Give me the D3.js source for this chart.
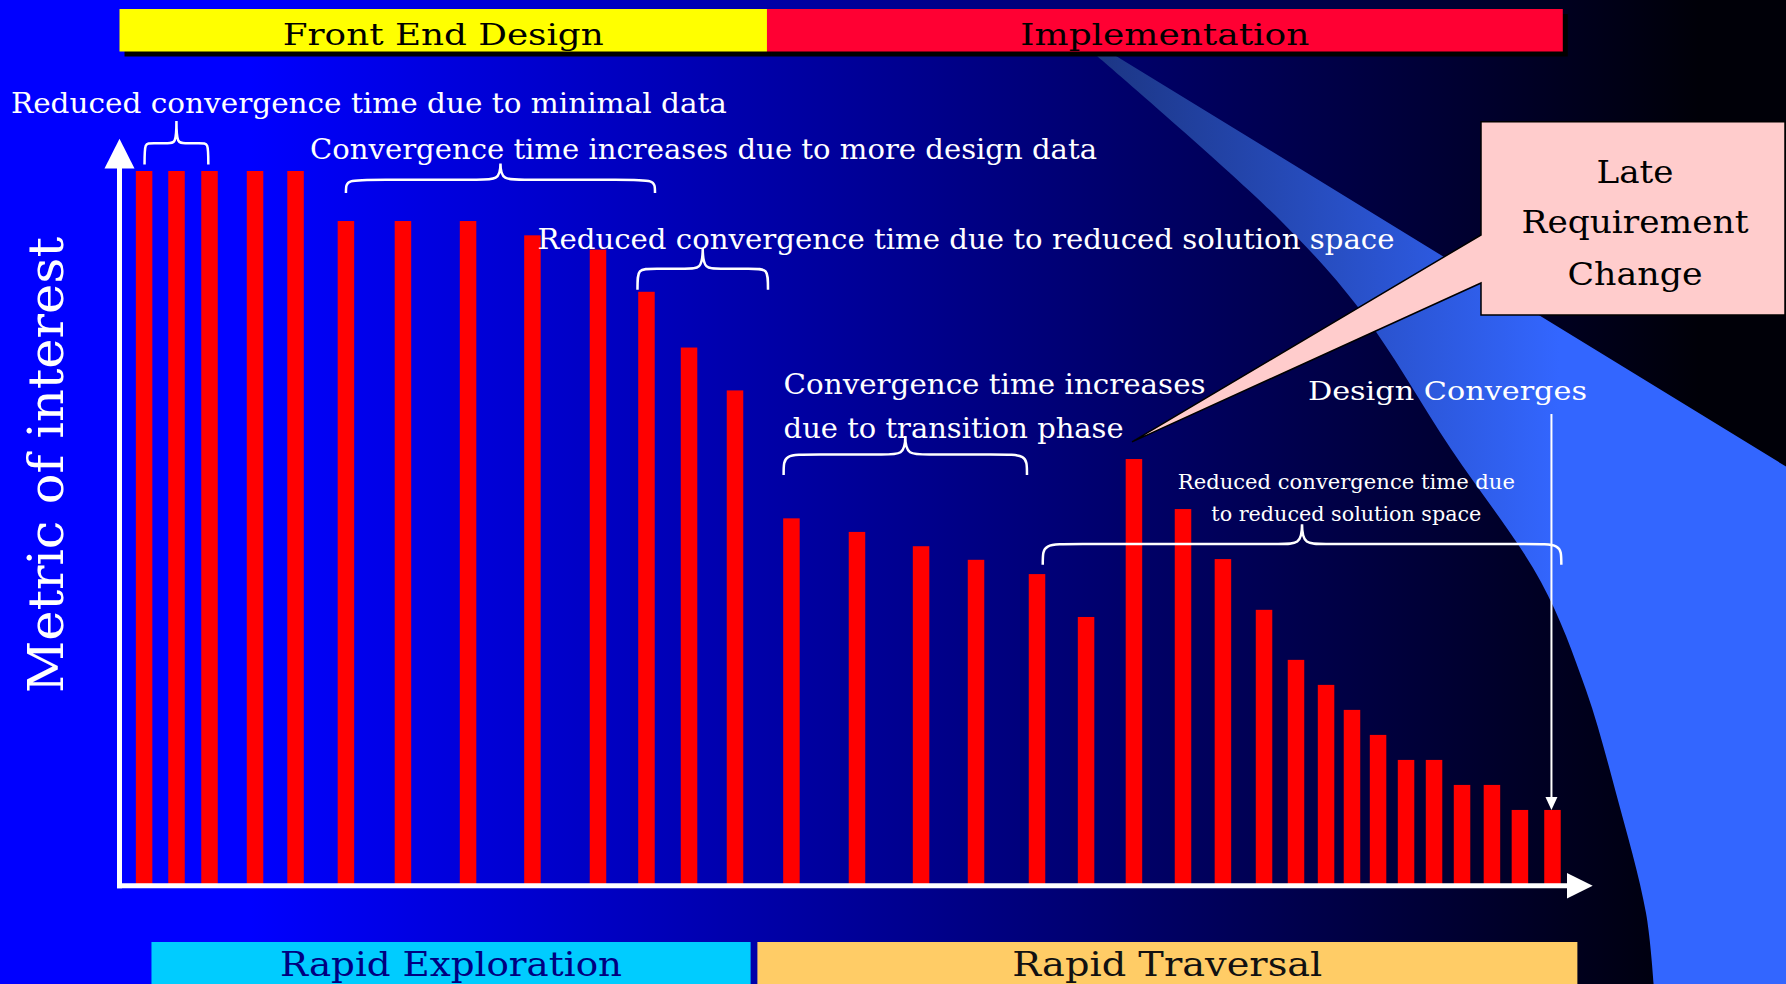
<!DOCTYPE html>
<html>
<head>
<meta charset="utf-8">
<script src="https://cdn.jsdelivr.net/npm/d3@7"></script>
<style>
  html, body { margin: 0; padding: 0; background: #000; overflow: hidden; }
  text { font-family: "DejaVu Serif", "Liberation Serif", serif; }
</style>
</head>
<body>
<svg id="chart" width="1786" height="984"></svg>
<script>
// bar data: position on the time axis (0-100) and metric value (0-100)
const times = [1.67, 3.87, 6.11, 9.2, 11.95, 15.37, 19.24, 23.66, 28.03, 32.48, 35.77, 38.66, 41.78,
  45.61, 50.06, 54.41, 58.14, 62.28, 65.61, 68.86, 72.19, 74.9, 77.69, 79.86, 81.9, 83.66, 85.43,
  87.33, 89.23, 91.13, 93.16, 95.06, 97.27];
const metric = [100, 100, 100, 100, 100, 93, 93, 93, 91, 89, 83.1, 75.3, 69.3,
  51.4, 49.5, 47.5, 45.6, 43.6, 37.6, 59.7, 52.7, 45.7, 38.6, 31.6, 28.1, 24.6, 21.1,
  17.6, 17.6, 14.1, 14.1, 10.6, 10.6];

// phase bands, in time units
const topPhases = ["Front End Design", "Implementation"];
const topPhaseStart = [0, 43.95];
const topPhaseEnd = [43.95, 97.97];
const bottomPhases = ["Rapid Exploration", "Rapid Traversal"];
const bottomPhaseStart = [2.17, 43.3];
const bottomPhaseEnd = [42.84, 98.96];

const yLabel = "Metric of interest";
const calloutLines = ["Late", "Requirement", "Change"];

// braces (time from/to, metric values of tip, flat part and ends)
const braces = [
  { from: 1.70, to: 6.03, tip: 107.0, mid: 103.9, end: 100.9 },
  { from: 15.37, to: 36.35, tip: 101.06, mid: 98.78, end: 96.92 },
  { from: 35.16, to: 44.02, tip: 89.23, mid: 86.33, end: 83.39 },
  { from: 45.08, to: 61.60, tip: 62.92, mid: 60.33, end: 57.46 },
  { from: 62.67, to: 97.87, tip: 50.57, mid: 47.81, end: 44.91 }
];

const notes = [
  { text: "Reduced convergence time due to minimal data", t: -7.37, v: 108.1 },
  { text: "Convergence time increases due to more design data", t: 12.93, v: 101.68 },
  { text: "Reduced convergence time due to reduced solution space", t: 28.37, v: 89.08 },
  { text: "Convergence time increases", t: 45.08, v: 68.73 },
  { text: "due to transition phase", t: 45.08, v: 62.68 },
  { text: "Design Converges", t: 80.67, v: 67.96 },
  { text: "Reduced convergence time due", t: 83.28, v: 55.51 },
  { text: "to reduced solution space", t: 83.28, v: 51.03 }
];
const noteSize = [27, 27, 27, 27, 27, 26, 20, 20];
const noteLen = [716, 787, 857, 422, 340, 279, 337, 270];
const noteAnchor = ["start", "start", "start", "start", "start", "start", "middle", "middle"];

const calloutTip = { t: 68.73, v: 62.1 };
const convergeArrow = { t: 97.2, from: 66, to: 10.6 };

const W = 1786, H = 984;
const svg = d3.select("#chart");

const x = d3.scaleLinear().domain([0, 100]).range([119.5, 1592.7]);
const y = d3.scaleLinear().domain([0, 100]).range([885.7, 171]);

const defs = svg.append("defs");
const bg = defs.append("linearGradient").attr("id", "bg")
  .attr("gradientUnits", "userSpaceOnUse")
  .attr("x1", 250).attr("y1", 0).attr("x2", 1700).attr("y2", 0);
bg.append("stop").attr("offset", 0).attr("stop-color", "#0000ff");
bg.append("stop").attr("offset", 1).attr("stop-color", "#000008");

const wg = defs.append("linearGradient").attr("id", "wedge")
  .attr("gradientUnits", "userSpaceOnUse")
  .attr("x1", 1100).attr("y1", 0).attr("x2", 1560).attr("y2", 0);
wg.append("stop").attr("offset", 0).attr("stop-color", "#1c3685");
wg.append("stop").attr("offset", 1).attr("stop-color", "#3366ff");

svg.append("rect").attr("width", W).attr("height", H).attr("fill", "url(#bg)");

// light beam coming down from the implementation band
const beamEdge = [[1097, 56], [1280, 220], [1361, 311], [1451, 449], [1541, 582],
  [1586, 690], [1616, 793], [1646, 913], [1654, 990]];
const edge = d3.line().curve(d3.curveCatmullRom)(beamEdge);
svg.append("path")
  .attr("d", edge + "L1790,990L1790,469L1116,56Z")
  .attr("fill", "url(#wedge)");

// top phase bands with shadows
const topColors = ["#ffff00", "#ff0033"];
const topLen = [321, 289];
const topG = svg.append("g");
topG.selectAll(".shadow").data(topPhases).enter().append("rect")
  .attr("class", "shadow")
  .attr("x", (d, i) => x(topPhaseStart[i]) + 5)
  .attr("y", 14)
  .attr("width", (d, i) => x(topPhaseEnd[i]) - x(topPhaseStart[i]))
  .attr("height", 42.5)
  .attr("fill", "#000");
topG.selectAll(".band").data(topPhases).enter().append("rect")
  .attr("class", "band")
  .attr("x", (d, i) => x(topPhaseStart[i]))
  .attr("y", 9)
  .attr("width", (d, i) => x(topPhaseEnd[i]) - x(topPhaseStart[i]))
  .attr("height", 42.5)
  .attr("fill", (d, i) => topColors[i]);
topG.selectAll("text").data(topPhases).enter().append("text")
  .attr("x", (d, i) => (x(topPhaseStart[i]) + x(topPhaseEnd[i])) / 2)
  .attr("y", 45)
  .attr("text-anchor", "middle")
  .attr("font-size", 30)
  .attr("textLength", (d, i) => topLen[i])
  .attr("lengthAdjust", "spacingAndGlyphs")
  .attr("fill", "#000")
  .text(d => d);

// bottom phase bands
const botColors = ["#00ccff", "#ffcc66"];
const botText = ["#000080", "#111111"];
const botLen = [342, 310];
const bottomG = svg.append("g");
bottomG.selectAll("rect").data(bottomPhases).enter().append("rect")
  .attr("x", (d, i) => x(bottomPhaseStart[i]))
  .attr("y", 942)
  .attr("width", (d, i) => x(bottomPhaseEnd[i]) - x(bottomPhaseStart[i]))
  .attr("height", 50)
  .attr("fill", (d, i) => botColors[i]);
bottomG.selectAll("text").data(bottomPhases).enter().append("text")
  .attr("x", (d, i) => (x(bottomPhaseStart[i]) + x(bottomPhaseEnd[i])) / 2)
  .attr("y", 976)
  .attr("text-anchor", "middle")
  .attr("font-size", 33)
  .attr("textLength", (d, i) => botLen[i])
  .attr("lengthAdjust", "spacingAndGlyphs")
  .attr("fill", (d, i) => botText[i])
  .text(d => d);

// bars
svg.append("g").selectAll("rect").data(metric).enter().append("rect")
  .attr("x", (d, i) => x(times[i]) - 8.25)
  .attr("y", d => y(d))
  .attr("width", 16.5)
  .attr("height", d => y(0) - y(d))
  .attr("fill", "#ff0000");

// axes with arrow heads
const axes = svg.append("g").attr("fill", "#fff").attr("stroke", "#fff");
axes.append("line")
  .attr("x1", x(0)).attr("y1", y(0) + 2.5)
  .attr("x2", x(0)).attr("y2", y(104.5) + 28)
  .attr("stroke-width", 5);
axes.append("path")
  .attr("stroke", "none")
  .attr("d", `M${x(0) - 15},${y(104.5) + 29.6}L${x(0) + 15},${y(104.5) + 29.6}L${x(0)},${y(104.5)}Z`);
axes.append("line")
  .attr("x1", x(0) - 2.5).attr("y1", y(0))
  .attr("x2", x(100) - 25).attr("y2", y(0))
  .attr("stroke-width", 5);
axes.append("path")
  .attr("stroke", "none")
  .attr("d", `M${x(100) - 25.7},${y(0) - 12.8}L${x(100) - 25.7},${y(0) + 12.8}L${x(100)},${y(0)}Z`);

// y label
svg.append("text")
  .attr("transform", "translate(63,465) rotate(-90)")
  .attr("text-anchor", "middle")
  .attr("font-size", 48)
  .attr("textLength", 456)
  .attr("lengthAdjust", "spacingAndGlyphs")
  .attr("fill", "#fff")
  .text(yLabel);

// curly braces
function bracePath(b) {
  const x1 = x(b.from), x2 = x(b.to), cx = (x1 + x2) / 2;
  const ym = y(b.mid), yt = y(b.tip), ye = y(b.end);
  const re = Math.min(40, (x2 - x1) * 0.15);
  const rc = Math.min(24, (x2 - x1) * 0.14);
  return `M${x1},${ye}C${x1},${ym} ${x1},${ym} ${x1 + re},${ym}` +
    `L${cx - rc},${ym}C${cx - rc * 0.2},${ym} ${cx},${ym} ${cx},${yt}` +
    `C${cx},${ym} ${cx + rc * 0.2},${ym} ${cx + rc},${ym}` +
    `L${x2 - re},${ym}C${x2},${ym} ${x2},${ym} ${x2},${ye}`;
}
svg.append("g").selectAll("path").data(braces).enter().append("path")
  .attr("d", bracePath)
  .attr("fill", "none")
  .attr("stroke", "#fff")
  .attr("stroke-width", 2.5);

// annotation texts
svg.append("g").selectAll("text").data(notes).enter().append("text")
  .attr("x", d => x(d.t))
  .attr("y", d => y(d.v))
  .attr("text-anchor", (d, i) => noteAnchor[i])
  .attr("font-size", (d, i) => noteSize[i])
  .attr("textLength", (d, i) => noteLen[i])
  .attr("lengthAdjust", "spacingAndGlyphs")
  .attr("fill", "#fff")
  .text(d => d.text);

// design converges arrow
const ax = x(convergeArrow.t);
svg.append("line")
  .attr("x1", ax).attr("y1", y(convergeArrow.from))
  .attr("x2", ax).attr("y2", y(convergeArrow.to) - 10)
  .attr("stroke", "#fff").attr("stroke-width", 2);
svg.append("path")
  .attr("d", `M${ax - 6},${y(convergeArrow.to) - 13}L${ax + 6},${y(convergeArrow.to) - 13}L${ax},${y(convergeArrow.to)}Z`)
  .attr("fill", "#fff");

// late requirement callout
const bx0 = 1481, bx1 = 1785, by0 = 121.7, by1 = 315;
svg.append("path")
  .attr("d", `M${bx0},${by0}H${bx1}V${by1}H${bx0}V283L${x(calloutTip.t)},${y(calloutTip.v)}L${bx0},235Z`)
  .attr("fill", "#ffcccc")
  .attr("stroke", "#000")
  .attr("stroke-width", 1.5);
const calloutY = [182.7, 233, 285];
const calloutLen = [77, 227, 135];
svg.append("g").selectAll("text").data(calloutLines).enter().append("text")
  .attr("x", 1635)
  .attr("y", (d, i) => calloutY[i])
  .attr("text-anchor", "middle")
  .attr("font-size", 32)
  .attr("textLength", (d, i) => calloutLen[i])
  .attr("lengthAdjust", "spacingAndGlyphs")
  .attr("fill", "#000")
  .text(d => d);
</script>
</body>
</html>
